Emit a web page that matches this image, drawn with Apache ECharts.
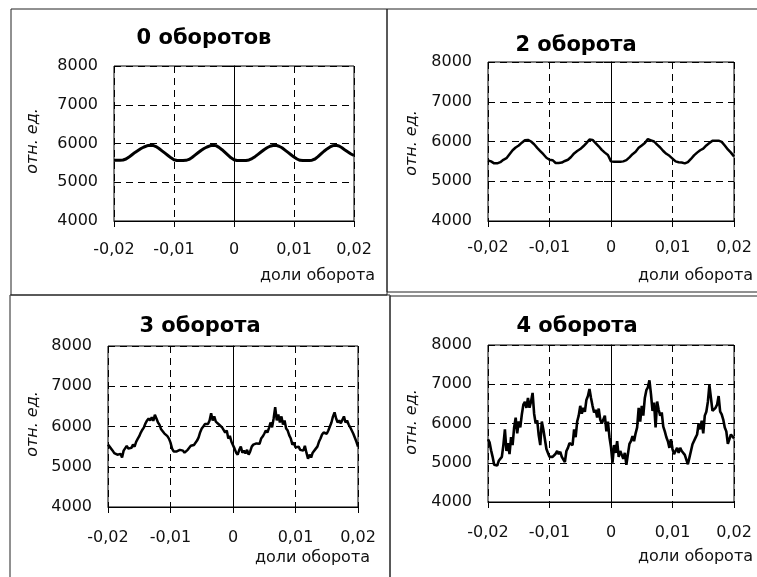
<!DOCTYPE html>
<html>
<head>
<meta charset="utf-8">
<script src="https://cdn.jsdelivr.net/npm/echarts@6/dist/echarts.min.js"></script>
<style>html,body{margin:0;padding:0;background:#fff}#c{width:757px;height:577px}</style>
</head>
<body>
<div id="c"></div>
<script>
// ---- data ----
const titles = ['0 оборотов', '2 оборота', '3 оборота', '4 оборота'];
const yName = 'отн. ед.';
const xName = 'доли оборота';
const xTicks = [-0.02, -0.01, 0, 0.01, 0.02];
const xTickLabels = ['-0,02', '-0,01', '0', '0,01', '0,02'];
const yTicks = [4000, 5000, 6000, 7000, 8000];
const yTickLabels = ['4000', '5000', '6000', '7000', '8000'];
const xStart = -0.02;
const stepCoarse = 0.0005;
const stepFine = 0.00025;

const rev0 = [5570,5570,5570,5575,5600,5650,5710,5770,5820,5870,5910,5940,5955,5950,5920,5870,5810,5750,5690,5630,5580,5560,5560,5560,5565,5590,5640,5700,5760,5820,5870,5910,5940,5955,5945,5900,5840,5770,5700,5630,5580,5560,5560,5560,5560,5575,5610,5660,5720,5780,5840,5890,5930,5950,5955,5930,5890,5830,5770,5710,5650,5600,5565,5560,5560,5560,5570,5600,5660,5730,5800,5860,5910,5945,5955,5935,5890,5830,5780,5730,5690];

const rev2 = [5520,5500,5450,5450,5480,5540,5580,5680,5780,5850,5900,5970,6030,6040,6000,5930,5840,5760,5680,5590,5540,5530,5460,5460,5470,5510,5540,5610,5700,5760,5810,5880,5960,6050,6040,5960,5880,5790,5720,5660,5500,5490,5490,5490,5500,5530,5600,5680,5740,5840,5900,5960,6060,6030,6000,5920,5850,5760,5690,5640,5570,5500,5480,5470,5450,5480,5560,5650,5720,5780,5820,5900,5960,6020,6020,6020,5990,5900,5800,5720,5620];

const rev3 = [5550,5500,5470,5400,5340,5380,5300,5260,5320,5230,5400,5440,5520,5450,5410,5470,5550,5500,5620,5690,5760,5850,5920,5980,6080,6150,6200,6150,6230,6140,6290,6200,6100,6040,5930,5890,5830,5860,5760,5700,5600,5450,5380,5360,5380,5380,5420,5440,5400,5350,5340,5420,5450,5520,5500,5540,5580,5650,5730,5860,5950,6000,6060,6100,6060,6150,6330,6150,6250,6120,6150,6050,6080,5980,6000,5850,5900,5700,5770,5620,5580,5450,5350,5300,5420,5500,5350,5400,5330,5420,5300,5380,5500,5550,5520,5580,5620,5570,5700,5750,5820,5900,5850,5960,6100,5980,6200,6480,6150,6300,6100,6250,6050,6150,5950,5900,5780,5700,5550,5600,5480,5450,5500,5420,5460,5400,5520,5350,5200,5300,5230,5350,5320,5450,5500,5620,5700,5800,5850,5830,5820,5900,6000,6100,6250,6350,6200,6100,6150,6080,6120,6250,6100,6150,6050,5980,5900,5820,5720,5620,5500];

const rev4 = [5600,5520,5320,5150,4950,5000,4930,5050,5000,5150,5450,5850,5300,5500,5220,5650,5450,5900,6150,5750,6050,5900,6230,6480,6550,6400,6650,6400,6560,6780,6250,6000,6080,5700,5450,6050,5850,5600,5350,5250,5150,5200,5150,5200,5230,5300,5220,5280,5150,5100,5020,5300,5380,5500,5550,5450,5850,5650,6050,6200,6450,6250,6400,6300,6600,6700,6880,6650,6450,6280,6350,6150,6380,6100,6000,5950,6200,5800,6050,5650,5400,5000,5450,5250,5550,5150,5300,5200,5100,5250,4950,5220,5480,5550,5680,5550,5750,5900,6400,6050,6450,6200,6650,6850,6920,7100,6750,6320,6530,5900,6560,6350,6200,6280,5920,5800,5650,5550,5380,5600,5350,5220,5300,5380,5250,5380,5300,5250,5200,5150,4960,5130,5300,5470,5500,5640,5720,6000,5850,6070,5750,6200,6300,6550,6980,6650,6320,6270,6400,6480,6700,6300,6230,6100,5900,5800,5480,5450,5720,5760,5620];

// ---- layout ----
const panels = [
  {vals: rev0, step: stepCoarse, grid: {left:114, top:66, width:240, height:155}, lw:3, xm:21,
   border:[11,9,376,286], title:[204,39], yn:[33,141], xn:[375,276]},
  {vals: rev2, step: stepCoarse, grid: {left:488, top:62, width:246, height:159}, lw:2.5, xm:19,
   border:[387,9,400,283], title:[576,46], yn:[412,143], xn:[753,276]},
  {vals: rev3, step: stepFine, grid: {left:108, top:346, width:250, height:161}, lw:2.5, xm:23,
   border:[10,295,380,320], title:[200,327], yn:[33,424], xn:[370,558]},
  {vals: rev4, step: stepFine, grid: {left:488, top:345, width:246, height:157}, lw:2.6, xm:23,
   border:[390,296,400,320], title:[577,327], yn:[412,422], xn:[753,557]}
];

const FONT = 'DejaVu Sans';
const fmtX = v => { const i = xTicks.findIndex(t => Math.abs(t - v) < 1e-9); return i >= 0 ? xTickLabels[i] : ''; };
const fmtY = v => { const i = yTicks.findIndex(t => Math.abs(t - v) < 1e-6); return i >= 0 ? yTickLabels[i] : ''; };
const dash = [7, 5];

const option = {
  animation: false,
  backgroundColor: '#fff',
  grid: [], xAxis: [], yAxis: [], series: [], graphic: []
};

panels.forEach((p, k) => {
  option.grid.push(Object.assign({show:true, borderColor:'#000', borderWidth:1, containLabel:false}, p.grid));
  option.xAxis.push({
    type:'value', gridIndex:k, min:xTicks[0], max:xTicks[xTicks.length-1], interval:0.01,
    axisLine:{show:true, onZero:false, lineStyle:{color:'#000', width:1}},
    axisTick:{show:true, length:6, lineStyle:{color:'#000'}},
    axisLabel:{color:'#111', fontFamily:FONT, fontSize:16, margin:p.xm, formatter:fmtX},
    splitLine:{show:true, lineStyle:{color:'#000', type:dash, width:1}}
  });
  option.yAxis.push({
    type:'value', gridIndex:k, min:yTicks[0], max:yTicks[yTicks.length-1], interval:1000,
    axisLine:{show:true, lineStyle:{color:'#000', width:1}},
    axisTick:{show:true, length:7, lineStyle:{color:'#000'}},
    axisLabel:{color:'#111', fontFamily:FONT, fontSize:16, margin:16, formatter:fmtY},
    splitLine:{show:true, lineStyle:{color:'#000', type:dash, width:1}}
  });
  option.series.push({
    type:'line', xAxisIndex:k, yAxisIndex:k, showSymbol:false, symbol:'none',
    lineStyle:{color:'#000', width:p.lw}, silent:true,
    data: p.vals.map((v, i) => [xStart + i * p.step, v])
  });
  const [bx, by, bw, bh] = p.border;
  option.graphic.push({type:'rect', shape:{x:bx, y:by, width:bw, height:bh}, style:{fill:'none', stroke:'#222', lineWidth:1}, z:100});
  option.graphic.push({type:'text', x:p.title[0], y:p.title[1], style:{text:titles[k], fill:'#000', font:'bold 21px "' + FONT + '"', textAlign:'center', textVerticalAlign:'middle'}, z:100});
  option.graphic.push({type:'text', x:p.yn[0], y:p.yn[1], rotation:Math.PI/2, style:{text:yName, fill:'#111', font:'italic 16px "' + FONT + '"', textAlign:'center', textVerticalAlign:'middle'}, z:100});
  option.graphic.push({type:'text', x:p.xn[0], y:p.xn[1], style:{text:xName, fill:'#111', font:'16px "' + FONT + '"', textAlign:'right', textVerticalAlign:'middle'}, z:100});
});

const chart = echarts.init(document.getElementById('c'), null, {renderer:'canvas'});
chart.setOption(option);
</script>
</body>
</html>
